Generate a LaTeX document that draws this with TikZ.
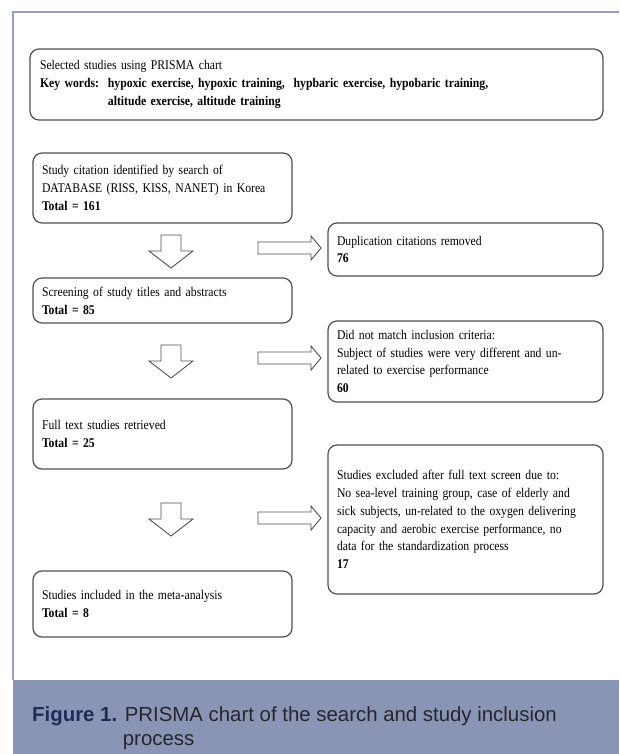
\documentclass[tikz,border=0pt]{standalone}
\usepackage{fontspec}
\newfontfamily\boxfont{Liberation Serif}[FakeStretch=0.88]
\newfontfamily\capfont{Liberation Sans}

\definecolor{framecol}{RGB}{150,160,198}
\definecolor{bandcol}{RGB}{138,148,181}
\definecolor{capnavy}{RGB}{32,44,88}
\definecolor{captext}{RGB}{38,38,44}
\definecolor{boxline}{RGB}{80,80,80}

\begin{document}
\begin{tikzpicture}[x=1pt,y=-1pt,
  box/.style={draw=boxline,line width=1.2pt,rounded corners=9pt,align=left,
    inner xsep=9pt,inner ysep=0pt,font=\boxfont\fontsize{13.3}{17.8}\selectfont},
  blk/.style={draw=boxline,line width=0.9pt,fill=white,line join=miter}]

\useasboundingbox (0,0) rectangle (619,754);

\draw[framecol,line width=1.5pt] (13,680)--(13,12)--(619,12);
\fill[bandcol] (13,680) rectangle (619,754);

\node[box,text width=553pt,minimum height=71pt,inner xsep=10pt] (search) at (316.5,84.5)
  {Selected studies using PRISMA chart\\
   \textbf{Key words:\ \ hypoxic exercise, hypoxic training,\ \ hypbaric exercise, hypobaric training,}\\
   \textbf{\phantom{Key words:\ \ }altitude exercise, altitude training}};

\node[box,text width=241pt,minimum height=70pt] (ident) at (162.5,188)
  {Study citation identified by search of\\DATABASE (RISS, KISS, NANET) in Korea\\\textbf{Total = 161}};
\node[box,text width=241pt,minimum height=45pt] (screen) at (162.5,300.5)
  {Screening of study titles and abstracts\\\textbf{Total = 85}};
\node[box,text width=241pt,minimum height=70pt] (fulltext) at (162.5,434)
  {Full text studies retrieved\\\textbf{Total = 25}};
\node[box,text width=241pt,minimum height=66pt] (included) at (162.5,604)
  {Studies included in the meta-analysis\\\textbf{Total = 8}};

\node[box,text width=257pt,minimum height=53pt] (dupl) at (465.5,249.5)
  {Duplication citations removed\\\textbf{76}};
\node[box,text width=257pt,minimum height=81pt] (nomatch) at (465.5,361.5)
  {Did not match inclusion criteria:\\
   Subject of studies were very different and un-\\
   related to exercise performance\\\textbf{60}};
\node[box,text width=257pt,minimum height=149pt] (excluded) at (465.5,519.5)
  {Studies excluded after full text screen due to:\\
   No sea-level training group, case of elderly and\\
   sick subjects, un-related to the oxygen delivering\\
   capacity and aerobic exercise performance, no\\
   data for the standardization process\\\textbf{17}};

% down arrows
\draw[blk] (161,235)--++(20,0)--++(0,16)--++(12,0)--++(-22,17)--++(-22,-17)--++(12,0)--cycle;
\draw[blk] (161,345)--++(20,0)--++(0,16)--++(12,0)--++(-22,17)--++(-22,-17)--++(12,0)--cycle;
\draw[blk] (161,503)--++(20,0)--++(0,16)--++(12,0)--++(-22,17)--++(-22,-17)--++(12,0)--cycle;

% right arrows
\draw[blk] (258,242)--++(53,0)--++(0,-6)--++(10,12)--++(-10,12)--++(0,-6)--++(-53,0)--cycle;
\draw[blk] (258,352)--++(53,0)--++(0,-6)--++(10,12)--++(-10,12)--++(0,-6)--++(-53,0)--cycle;
\draw[blk] (258,512)--++(53,0)--++(0,-6)--++(10,12)--++(-10,12)--++(0,-6)--++(-53,0)--cycle;

\node[anchor=west,align=left,inner sep=0pt,text=captext,
  font=\capfont\fontsize{20.4}{23.5}\selectfont] (caption) at (32,728.5)
  {{\bfseries\color{capnavy}Figure 1.} PRISMA chart of the search and study inclusion\\
   \phantom{\bfseries Figure 1.} process};

\end{tikzpicture}
\end{document}
